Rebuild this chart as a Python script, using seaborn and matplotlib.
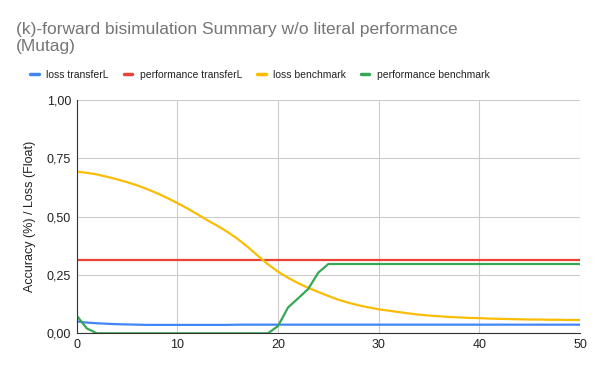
import matplotlib
matplotlib.use("Agg")
import matplotlib.pyplot as plt
from matplotlib.ticker import FuncFormatter
import seaborn as sns
import pandas as pd

epochs = list(range(51))

loss_transfer = [0.051, 0.046, 0.043, 0.041, 0.039, 0.038, 0.037] + [0.036] * 9 + [0.037] * 35
perf_transfer = [0.315] * 51
loss_bench = [0.693, 0.688, 0.681, 0.671, 0.660, 0.648, 0.634, 0.618, 0.600, 0.580,
              0.558, 0.535, 0.510, 0.484, 0.460, 0.434, 0.404, 0.370, 0.332, 0.296,
              0.264, 0.238, 0.215, 0.195, 0.177, 0.160, 0.144, 0.131, 0.120, 0.111,
              0.103, 0.097, 0.091, 0.085, 0.080, 0.076, 0.073, 0.070, 0.068, 0.066,
              0.065, 0.063, 0.062, 0.061, 0.060, 0.059, 0.059, 0.058, 0.058, 0.057,
              0.057]
perf_bench = [0.076, 0.021] + [0.0] * 18 + [0.031, 0.111, 0.150, 0.190, 0.260] + [0.297] * 26

names = ["loss transferL", "performance transferL", "loss benchmark", "performance benchmark"]
colors = ["#4285F4", "#EA4335", "#FBBC04", "#34A853"]

rows = []
for name, vals in zip(names, [loss_transfer, perf_transfer, loss_bench, perf_bench]):
    for e, v in zip(epochs, vals):
        rows.append([e, v, name])
df = pd.DataFrame(rows, columns=["epoch", "value", "series"])

sns.set_style("white")
plt.rcParams["font.family"] = ["Liberation Sans", "DejaVu Sans"]

fig = plt.figure(figsize=(5.99, 3.70), dpi=100)
ax = fig.add_axes([76.7 / 599, 1 - 333.3 / 370, (580 - 76.7) / 599, (333.3 - 100) / 370])

sns.lineplot(data=df, x="epoch", y="value", hue="series", hue_order=names,
             palette=colors, linewidth=1.6, ax=ax, legend=False)

ax.set_xlim(0, 50)
ax.set_ylim(0, 1)
ax.set_xticks([0, 10, 20, 30, 40, 50])
ax.set_yticks([0, 0.25, 0.5, 0.75, 1.0])
ax.yaxis.set_major_formatter(FuncFormatter(lambda v, p: f"{v:.2f}".replace(".", ",")))
ax.grid(True, color="#cccccc", linewidth=0.8)
ax.set_axisbelow(True)
for s in ["top", "right"]:
    ax.spines[s].set_visible(False)
ax.spines["left"].set_color("#333333")
ax.spines["bottom"].set_color("#333333")
ax.tick_params(axis="both", length=0, labelsize=9, colors="#222222", pad=4)
ax.set_xlabel("")
ax.set_ylabel("Accuracy (%) / Loss (Float)", fontsize=9, color="#222222", labelpad=8)

fig.text(16 / 599, 1 - 22 / 370, "(k)-forward bisimulation Summary w/o literal performance\n(Mutag)",
         fontsize=12.5, color="#757575", va="top", ha="left", linespacing=1.15)

handles = [plt.Line2D([], [], color=c, linewidth=2.5) for c in colors]
fig.legend(handles, names, loc="center left", bbox_to_anchor=(21 / 599, 1 - 75 / 370),
           ncol=4, frameon=False, fontsize=7.45, handlelength=0.8, handletextpad=0.75,
           columnspacing=1.45, labelcolor="#222222")

fig.savefig("out.png", dpi=100)
